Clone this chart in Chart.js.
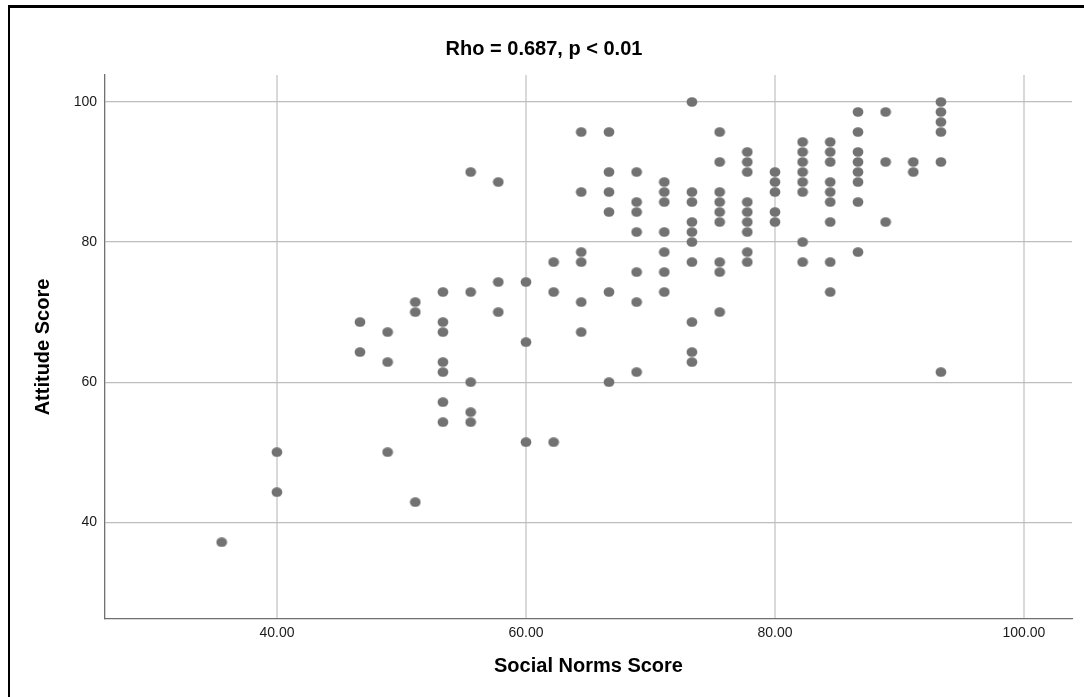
<!DOCTYPE html>
<html>
<head>
<meta charset="utf-8">
<script src="https://cdn.jsdelivr.net/npm/chart.js@4.4.1/dist/chart.umd.min.js"></script>
<style>
  html, body { margin: 0; padding: 0; background: #ffffff; overflow: hidden; }
  #wrap { position: relative; width: 1084px; height: 697px; }
  #frame { position: absolute; left: 8px; top: 5px; width: 1200px; height: 900px;
           border-top: 3px solid #000; border-left: 2px solid #000; box-sizing: border-box; }
  #c { position: absolute; left: 0; top: 0; }
</style>
</head>
<body>
<div id="wrap">
  <div id="frame"></div>
  <canvas id="c" width="1084" height="697"></canvas>
</div>
<script>
// ---- data ----
const chartTitle = 'Rho = 0.687, p < 0.01';
const xAxisTitle = 'Social Norms Score';
const yAxisTitle = 'Attitude Score';

const xTickValues = [40, 60, 80, 100];
const xTickLabels = ['40.00', '60.00', '80.00', '100.00'];
const yTickValues = [40, 60, 80, 100];
const yTickLabels = ['40', '60', '80', '100'];

const socialNorms = [
  35.56,
  40.00, 40.00,
  46.67, 46.67,
  48.89, 48.89, 48.89,
  51.11, 51.11, 51.11,
  53.33, 53.33, 53.33, 53.33, 53.33, 53.33, 53.33,
  55.56, 55.56, 55.56, 55.56, 55.56,
  57.78, 57.78, 57.78,
  60.00, 60.00, 60.00,
  62.22, 62.22, 62.22,
  64.44, 64.44, 64.44, 64.44, 64.44, 64.44,
  66.67, 66.67, 66.67, 66.67, 66.67, 66.67,
  68.89, 68.89, 68.89, 68.89, 68.89, 68.89, 68.89,
  71.11, 71.11, 71.11, 71.11, 71.11, 71.11, 71.11,
  73.33, 73.33, 73.33, 73.33, 73.33, 73.33, 73.33, 73.33, 73.33, 73.33,
  75.56, 75.56, 75.56, 75.56, 75.56, 75.56, 75.56, 75.56, 75.56,
  77.78, 77.78, 77.78, 77.78, 77.78, 77.78, 77.78, 77.78, 77.78,
  80.00, 80.00, 80.00, 80.00, 80.00,
  82.22, 82.22, 82.22, 82.22, 82.22, 82.22, 82.22, 82.22,
  84.44, 84.44, 84.44, 84.44, 84.44, 84.44, 84.44, 84.44, 84.44,
  86.67, 86.67, 86.67, 86.67, 86.67, 86.67, 86.67, 86.67,
  88.89, 88.89, 88.89,
  91.11, 91.11,
  93.33, 93.33, 93.33, 93.33, 93.33, 93.33
];

const attitude = [
  37.14,
  50.00, 44.29,
  68.57, 64.29,
  67.14, 62.86, 50.00,
  71.43, 70.00, 42.86,
  72.86, 68.57, 67.14, 62.86, 61.43, 57.14, 54.29,
  90.00, 72.86, 60.00, 55.71, 54.29,
  88.57, 74.29, 70.00,
  74.29, 65.71, 51.43,
  77.14, 72.86, 51.43,
  95.71, 87.14, 78.57, 77.14, 71.43, 67.14,
  95.71, 90.00, 87.14, 84.29, 72.86, 60.00,
  90.00, 85.71, 84.29, 81.43, 75.71, 71.43, 61.43,
  88.57, 87.14, 85.71, 81.43, 78.57, 75.71, 72.86,
  100.00, 87.14, 85.71, 82.86, 81.43, 80.00, 77.14, 68.57, 64.29, 62.86,
  95.71, 91.43, 87.14, 85.71, 84.29, 82.86, 77.14, 75.71, 70.00,
  92.86, 91.43, 90.00, 85.71, 84.29, 82.86, 81.43, 78.57, 77.14,
  90.00, 88.57, 87.14, 84.29, 82.86,
  94.29, 92.86, 91.43, 90.00, 88.57, 87.14, 80.00, 77.14,
  94.29, 92.86, 91.43, 88.57, 87.14, 85.71, 82.86, 77.14, 72.86,
  98.57, 95.71, 92.86, 91.43, 90.00, 88.57, 85.71, 78.57,
  98.57, 91.43, 82.86,
  91.43, 90.00,
  100.00, 98.57, 97.14, 95.71, 91.43, 61.43
];

// ---- chart ----
const FONT = '"Liberation Sans", Arial, Helvetica, sans-serif';
const pointColor = '#727272';

// slightly elliptical marker, as in the reference
const dot = document.createElement('canvas');
dot.width = 12; dot.height = 10;
(function () {
  const d = dot.getContext('2d');
  d.fillStyle = pointColor;
  d.beginPath();
  d.ellipse(6, 5, 5.4, 4.8, 0, 0, Math.PI * 2);
  d.fill();
})();

const points = socialNorms.map((x, i) => ({ x: x, y: attitude[i] }));

new Chart(document.getElementById('c'), {
  type: 'scatter',
  data: {
    datasets: [{
      data: points,
      pointStyle: dot,
      pointRadius: 5,
      pointHoverRadius: 5,
      backgroundColor: pointColor,
      borderWidth: 0
    }]
  },
  options: {
    responsive: false,
    animation: false,
    devicePixelRatio: 1,
    layout: { padding: { left: 16, right: 12, top: 0, bottom: 0 } },
    plugins: {
      legend: { display: false },
      tooltip: { enabled: false },
      title: {
        display: true,
        text: chartTitle,
        color: '#000',
        font: { family: FONT, size: 20, weight: 'bold' },
        padding: { top: 37, bottom: 14 }
      }
    },
    scales: {
      x: {
        type: 'linear',
        min: 26.19,
        max: 103.86,
        afterBuildTicks: (s) => { s.ticks = xTickValues.map(v => ({ value: v })); },
        afterFit: (s) => { s.height = 78; },
        ticks: {
          callback: (v, i) => xTickLabels[i],
          padding: 6,
          color: '#1a1a1a',
          font: { family: FONT, size: 14 },
          maxRotation: 0,
          autoSkip: false
        },
        grid: { color: '#d9d9d9', lineWidth: 2, drawTicks: false },
        border: { display: true, color: '#707070', width: 1.3 },
        title: {
          display: true,
          text: xAxisTitle,
          color: '#000',
          font: { family: FONT, size: 20, weight: 'bold' },
          padding: { top: 0, bottom: 19 }
        }
      },
      y: {
        type: 'linear',
        min: 26.19,
        max: 103.86,
        afterBuildTicks: (s) => { s.ticks = yTickValues.map(v => ({ value: v })); },
        afterFit: (s) => { s.width = 89; },
        ticks: {
          callback: (v, i) => yTickLabels[i],
          padding: 8,
          color: '#1a1a1a',
          font: { family: FONT, size: 14 },
          autoSkip: false
        },
        grid: { color: '#bdbdbd', lineWidth: 1.3, drawTicks: false },
        border: { display: true, color: '#707070', width: 1.3 },
        title: {
          display: true,
          text: yAxisTitle,
          color: '#000',
          font: { family: FONT, size: 20, weight: 'bold' },
          padding: { top: 15, bottom: 0 }
        }
      }
    }
  }
});
</script>
</body>
</html>
